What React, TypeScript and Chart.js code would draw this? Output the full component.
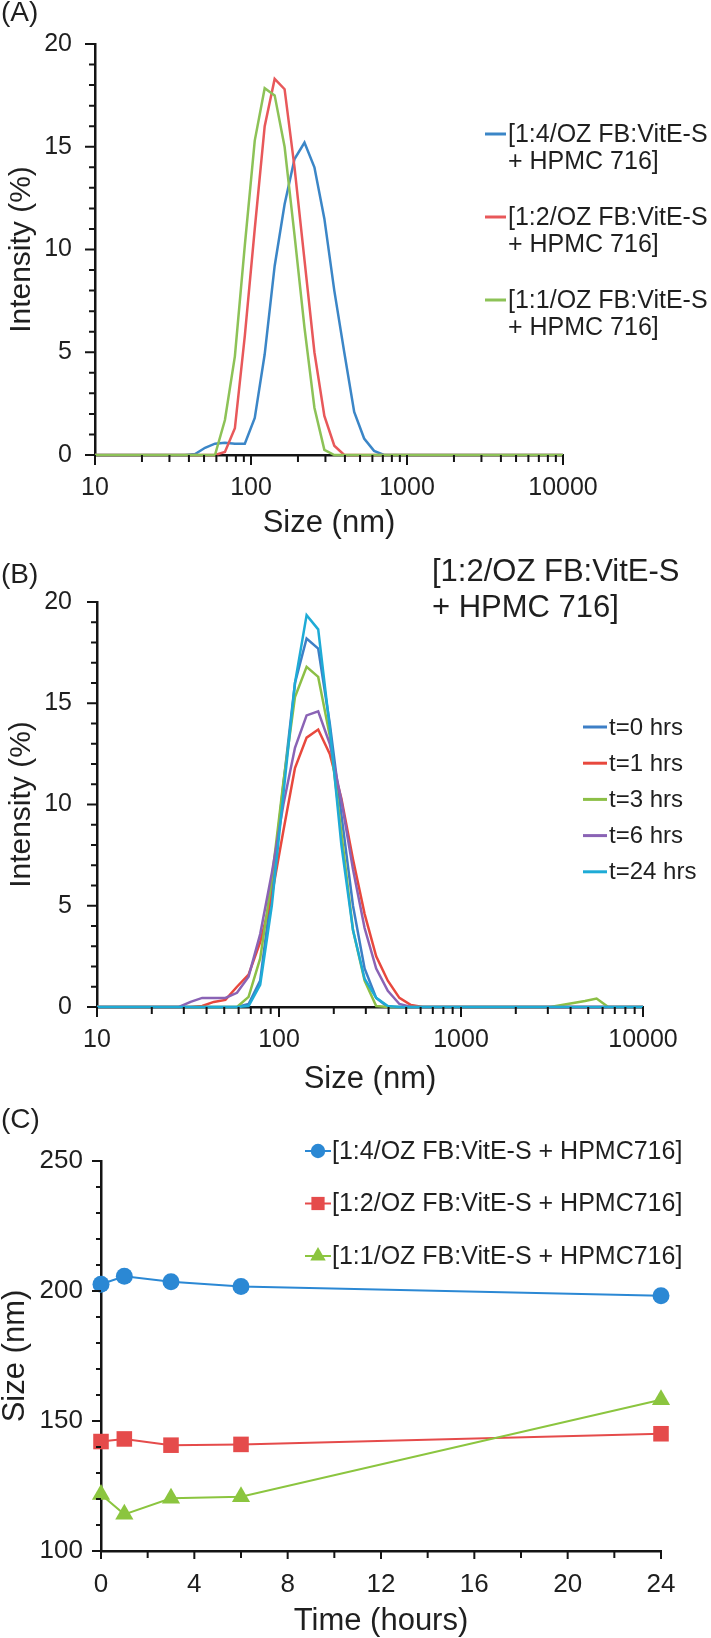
import React, { useEffect, useRef } from "react";
import { Chart, registerables } from "chart.js";

Chart.register(...registerables);

const FONT = "'Liberation Sans', Arial, Helvetica, sans-serif";
const TEXT = "#1f1f1f";
const AXIS = "#141414";
const W = 711;

// ---------------- data ----------------
// DLS size bins (nm)
const sizeBins = [
  8.721, 10.1, 11.7, 13.54, 15.69, 18.17, 21.04, 24.36, 28.21, 32.67, 37.84,
  43.82, 50.75, 58.77, 68.06, 78.82, 91.28, 105.7, 122.4, 141.8, 164.2, 190.1,
  220.2, 255.0, 295.3, 342.0, 396.1, 458.7, 531.2, 615.1, 712.4, 825.0, 955.4,
  1106, 1281, 1484, 1718, 1990, 2305, 2669, 3091, 3580, 4145, 4801, 5560, 6439,
  7456, 8635, 10000,
];
const intensityTicks = [0, 5, 10, 15, 20];
const sizeTicks = [10, 100, 1000, 10000];

// Panel A
const labelsA = [
  "[1:4/OZ FB:VitE-S\n+ HPMC 716]",
  "[1:2/OZ FB:VitE-S\n+ HPMC 716]",
  "[1:1/OZ FB:VitE-S\n+ HPMC 716]",
];
const intensityA14 = [
  0, 0, 0, 0, 0, 0, 0, 0, 0, 0, 0,
  0.05, 0.35, 0.55, 0.6, 0.55, 0.55, 1.8, 4.9, 9.2, 12.2, 14.4, 15.2, 14.0, 11.5,
  8.0, 5.0, 2.1, 0.8, 0.2, 0,
  0, 0, 0, 0, 0, 0, 0, 0, 0, 0, 0, 0, 0, 0, 0, 0, 0, 0,
];
const intensityA12 = [
  0, 0, 0, 0, 0, 0, 0, 0, 0, 0, 0, 0, 0, 0,
  0.15, 1.3, 5.8, 11.0, 16.0, 18.3, 17.8, 14.0, 9.5, 5.0, 1.9, 0.45, 0,
  0, 0, 0, 0, 0, 0, 0, 0, 0, 0, 0, 0, 0, 0, 0, 0, 0, 0, 0, 0, 0, 0,
];
const intensityA11 = [
  0, 0, 0, 0, 0, 0, 0, 0, 0, 0, 0, 0, 0, 0,
  1.7, 4.8, 10.2, 15.3, 17.85, 17.5, 15.0, 10.7, 6.2, 2.3, 0.25, 0,
  0, 0, 0, 0, 0, 0, 0, 0, 0, 0, 0, 0, 0, 0, 0, 0, 0, 0, 0, 0, 0, 0, 0,
];

// Panel B
const titleB = ["[1:2/OZ FB:VitE-S", "+ HPMC 716]"];
const labelsB = ["t=0 hrs", "t=1 hrs", "t=3 hrs", "t=6 hrs", "t=24 hrs"];
const intensityB0 = [
  0, 0, 0, 0, 0, 0, 0, 0, 0, 0, 0, 0, 0, 0,
  0.15, 1.3, 5.8, 11.0, 16.0, 18.2, 17.7, 14.0, 9.5, 5.0, 1.9, 0.45, 0,
  0, 0, 0, 0, 0, 0, 0, 0, 0, 0, 0, 0, 0, 0, 0, 0, 0, 0, 0, 0, 0, 0,
];
const intensityB1 = [
  0, 0, 0, 0, 0, 0, 0, 0, 0, 0,
  0.05, 0.25, 0.35, 1.0, 1.6, 3.2, 5.5, 8.7, 11.8, 13.3, 13.7, 12.5, 10.3, 7.3,
  4.6, 2.5, 1.3, 0.45, 0.1, 0,
  0, 0, 0, 0, 0, 0, 0, 0, 0, 0, 0, 0, 0, 0, 0, 0, 0, 0, 0,
];
const intensityB3 = [
  0, 0, 0, 0, 0, 0, 0, 0, 0, 0, 0, 0, 0, 0,
  0.5, 2.4, 6.3, 11.1, 15.3, 16.8, 16.3, 13.4, 8.6, 3.8, 1.3, 0.05,
  0, 0, 0, 0, 0, 0, 0, 0, 0, 0, 0, 0, 0, 0, 0,
  0.1, 0.2, 0.3, 0.42,
  0, 0, 0, 0,
];
const intensityB6 = [
  0, 0, 0, 0, 0, 0, 0, 0, 0,
  0.25, 0.45, 0.45, 0.45, 0.7, 1.5, 3.6, 6.6, 10.0, 12.8, 14.4, 14.6, 13.0, 10.2,
  6.8, 3.9, 1.9, 0.8, 0.15, 0,
  0, 0, 0, 0, 0, 0, 0, 0, 0, 0, 0, 0, 0, 0, 0, 0, 0, 0, 0, 0,
];
const intensityB24 = [
  0, 0, 0, 0, 0, 0, 0, 0, 0, 0, 0, 0, 0, 0,
  0.05, 1.1, 5.0, 10.5, 16.0, 19.35, 18.65, 13.8, 8.0, 3.8, 1.4, 0.45, 0.05, 0,
  0, 0, 0, 0, 0, 0, 0, 0, 0, 0, 0, 0, 0, 0, 0, 0, 0, 0, 0, 0, 0,
];

// Panel C
const timeHours = [0, 1, 3, 6, 24];
const timeTicks = [0, 4, 8, 12, 16, 20, 24];
const sizeTicksC = [100, 150, 200, 250];
const labelsC = [
  "[1:4/OZ FB:VitE-S + HPMC716]",
  "[1:2/OZ FB:VitE-S + HPMC716]",
  "[1:1/OZ FB:VitE-S + HPMC716]",
];
const sizeC14 = [202.6, 205.7, 203.6, 201.7, 198.2];
const sizeC12 = [142.1, 143.1, 140.7, 141.0, 145.1];
const sizeC11 = [121.7, 114.1, 120.3, 120.9, 158.2];

// ---------------- styles ----------------
const colorsA = ["#3b86c7", "#e8585a", "#8dc257"];
const colorsB = ["#3d7fc6", "#e8483d", "#8cbf46", "#8a63b5", "#1eabd6"];
const colorsC = ["#2b88d4", "#e54b4b", "#8bc53f"];

function range(a: number, b: number, s: number) {
  const out: number[] = [];
  for (let v = a; v <= b + 1e-9; v += s) out.push(v);
  return out;
}
const logMinor: number[] = [];
[10, 100, 1000].forEach((d) => {
  for (let k = 2; k <= 9; k++) logMinor.push(k * d);
});

function drawMarker(ctx: any, style: string, x: number, y: number, r: number) {
  ctx.beginPath();
  if (style === "rect") {
    const s = Math.SQRT1_2 * r;
    ctx.rect(x - s, y - s, 2 * s, 2 * s);
  } else if (style === "triangle") {
    let rad = 0;
    ctx.moveTo(x + Math.sin(rad) * r, y - Math.cos(rad) * r);
    rad += (2 * Math.PI) / 3;
    ctx.lineTo(x + Math.sin(rad) * r, y - Math.cos(rad) * r);
    rad += (2 * Math.PI) / 3;
    ctx.lineTo(x + Math.sin(rad) * r, y - Math.cos(rad) * r);
    ctx.closePath();
  } else {
    ctx.arc(x, y, r, 0, Math.PI * 2);
  }
  ctx.fill();
}

function decoPlugin(cfg: any) {
  return {
    id: "deco",
    afterDraw(chart: any) {
      const ctx = chart.ctx;
      const a = chart.chartArea;
      const xs = chart.scales.x;
      const ys = chart.scales.y;
      ctx.save();
      ctx.strokeStyle = AXIS;
      ctx.lineWidth = 2;
      ctx.beginPath();
      const yTick = (vals: number[], len: number) =>
        vals.forEach((v) => {
          const p = ys.getPixelForValue(v);
          ctx.moveTo(a.left, p);
          ctx.lineTo(a.left - len, p);
        });
      const xTick = (vals: number[], len: number) =>
        vals.forEach((v) => {
          const p = xs.getPixelForValue(v);
          ctx.moveTo(p, a.bottom);
          ctx.lineTo(p, a.bottom + len);
        });
      yTick(cfg.yMajor, cfg.yMajorLen);
      yTick(cfg.yMinor, cfg.yMinorLen);
      xTick(cfg.xMajor, cfg.xMajorLen);
      xTick(cfg.xMinor, cfg.xMinorLen);
      ctx.stroke();

      ctx.fillStyle = TEXT;
      ctx.textAlign = "left";
      ctx.textBaseline = "middle";
      ctx.font = `28px ${FONT}`;
      ctx.fillText(cfg.panel, 1, cfg.panelY);

      if (cfg.title) {
        const t = cfg.title;
        ctx.font = `${t.size}px ${FONT}`;
        t.lines.forEach((ln: string, j: number) => ctx.fillText(ln, t.x, t.y + j * t.dy));
      }

      const lg = cfg.legend;
      if (lg) {
        chart.data.datasets.forEach((ds: any, i: number) => {
          const y = lg.y + i * lg.dy;
          ctx.strokeStyle = ds.borderColor;
          ctx.lineWidth = lg.lineWidth;
          ctx.beginPath();
          ctx.moveTo(lg.x1, y - 1);
          ctx.lineTo(lg.x2, y - 1);
          ctx.stroke();
          if (lg.marker) {
            ctx.fillStyle = ds.backgroundColor;
            drawMarker(ctx, ds.pointStyle, (lg.x1 + lg.x2) / 2, y - 1, ds.pointRadius * 0.85);
          }
          ctx.fillStyle = TEXT;
          ctx.font = `${lg.size}px ${FONT}`;
          String(ds.label)
            .split("\n")
            .forEach((ln: string, j: number) => ctx.fillText(ln, lg.tx, y + j * lg.lineDy));
        });
      }
      ctx.restore();
    },
  };
}

function lineDs(label: string, values: number[], color: string, order: number) {
  return {
    label,
    data: sizeBins.map((x, i) => ({ x, y: values[i] })),
    borderColor: color,
    backgroundColor: color,
    borderWidth: 2.5,
    pointRadius: 0,
    pointHoverRadius: 0,
    tension: 0,
    fill: false,
    order,
    clip: { left: 0, right: 0, top: 6, bottom: 3 },
  };
}

function distConfig(p: any) {
  return {
    type: "line",
    data: { datasets: p.datasets },
    options: {
      responsive: false,
      animation: false,
      devicePixelRatio: 1,
      events: [],
      layout: { padding: { left: 0, right: W - p.right, top: p.plotTop, bottom: 0 } },
      plugins: { legend: { display: false }, tooltip: { enabled: false } },
      scales: {
        x: {
          type: "logarithmic",
          min: 10,
          max: 10000,
          afterBuildTicks: (s: any) => {
            s.ticks = sizeTicks.map((v) => ({ value: v }));
          },
          afterFit: (s: any) => {
            s.height = p.H - p.plotBottom;
          },
          ticks: {
            callback: (v: any) => String(v),
            autoSkip: false,
            maxRotation: 0,
            padding: 18,
            color: TEXT,
            font: { family: FONT, size: 25 },
          },
          grid: { display: false, drawTicks: false },
          border: { display: true, color: AXIS, width: 2.5 },
          title: {
            display: true,
            text: "Size (nm)",
            color: TEXT,
            font: { family: FONT, size: 31, lineHeight: 1 },
            padding: { top: 0, bottom: p.xTitlePad },
          },
        },
        y: {
          type: "linear",
          min: 0,
          max: 20,
          afterBuildTicks: (s: any) => {
            s.ticks = intensityTicks.map((v) => ({ value: v }));
          },
          afterFit: (s: any) => {
            s.width = p.left;
          },
          ticks: { padding: p.yLabelPad, color: TEXT, font: { family: FONT, size: 25 } },
          grid: { display: false, drawTicks: false },
          border: { display: true, color: AXIS, width: 2.5 },
          title: {
            display: true,
            text: "Intensity (%)",
            color: TEXT,
            font: { family: FONT, size: 30, lineHeight: 1 },
            padding: { top: 7, bottom: 0 },
          },
        },
      },
    },
    plugins: [p.deco],
  };
}

const minorInts = range(0, 20, 1).filter((v) => v % 5 !== 0);

function configA() {
  const H = 550;
  return distConfig({
    H,
    left: 95,
    right: 563,
    plotTop: 44,
    plotBottom: 455,
    xTitlePad: 11,
    yLabelPad: 23,
    datasets: [
      lineDs(labelsA[0], intensityA14, colorsA[0], 3),
      lineDs(labelsA[1], intensityA12, colorsA[1], 2),
      lineDs(labelsA[2], intensityA11, colorsA[2], 1),
    ],
    deco: decoPlugin({
      panel: "(A)",
      panelY: 13,
      yMajor: intensityTicks,
      yMinor: minorInts,
      yMajorLen: 10,
      yMinorLen: 6,
      xMajor: sizeTicks,
      xMinor: logMinor,
      xMajorLen: 10,
      xMinorLen: 7,
      legend: { x1: 485, x2: 506, tx: 508, y: 135, dy: 83, lineDy: 27, size: 25, lineWidth: 3 },
    }),
  });
}

function configB() {
  const H = 550;
  return distConfig({
    H,
    left: 97,
    right: 643,
    plotTop: 52,
    plotBottom: 457,
    xTitlePad: 5,
    yLabelPad: 25,
    datasets: [
      lineDs(labelsB[0], intensityB0, colorsB[0], 5),
      lineDs(labelsB[1], intensityB1, colorsB[1], 4),
      lineDs(labelsB[2], intensityB3, colorsB[2], 3),
      lineDs(labelsB[3], intensityB6, colorsB[3], 2),
      lineDs(labelsB[4], intensityB24, colorsB[4], 1),
    ],
    deco: decoPlugin({
      panel: "(B)",
      panelY: 25,
      yMajor: intensityTicks,
      yMinor: minorInts,
      yMajorLen: 10,
      yMinorLen: 6,
      xMajor: sizeTicks,
      xMinor: logMinor,
      xMajorLen: 10,
      xMinorLen: 7,
      title: { lines: titleB, x: 432, y: 22, dy: 36, size: 31 },
      legend: { x1: 583, x2: 607, tx: 609, y: 178, dy: 36.2, lineDy: 0, size: 24, lineWidth: 3 },
    }),
  });
}

function configC() {
  const H = 538;
  const plotTop = 61;
  const plotBottom = 451;
  const mk = (label: string, vals: number[], color: string, style: string, r: number, order: number) => ({
    label,
    data: timeHours.map((x, i) => ({ x, y: vals[i] })),
    borderColor: color,
    backgroundColor: color,
    borderWidth: 2,
    pointStyle: style,
    pointRadius: r,
    pointHoverRadius: r,
    pointBorderWidth: 0,
    tension: 0,
    fill: false,
    order,
    clip: false,
  });
  return {
    type: "line",
    data: {
      datasets: [
        mk(labelsC[0], sizeC14, colorsC[0], "circle", 8.5, 3),
        mk(labelsC[1], sizeC12, colorsC[1], "rect", 11, 2),
        mk(labelsC[2], sizeC11, colorsC[2], "triangle", 10.5, 1),
      ],
    },
    options: {
      responsive: false,
      animation: false,
      devicePixelRatio: 1,
      events: [],
      layout: { padding: { left: 0, right: W - 661, top: plotTop, bottom: 0 } },
      plugins: { legend: { display: false }, tooltip: { enabled: false } },
      scales: {
        x: {
          type: "linear",
          min: 0,
          max: 24,
          afterBuildTicks: (s: any) => {
            s.ticks = timeTicks.map((v) => ({ value: v }));
          },
          afterFit: (s: any) => {
            s.height = H - plotBottom;
          },
          ticks: { padding: 18, color: TEXT, font: { family: FONT, size: 26 }, maxRotation: 0, autoSkip: false },
          grid: { display: false, drawTicks: false },
          border: { display: true, color: AXIS, width: 2.5 },
          title: {
            display: true,
            text: "Time (hours)",
            color: TEXT,
            font: { family: FONT, size: 31, lineHeight: 1 },
            padding: { top: 0, bottom: 1 },
          },
        },
        y: {
          type: "linear",
          min: 100,
          max: 250,
          afterBuildTicks: (s: any) => {
            s.ticks = sizeTicksC.map((v) => ({ value: v }));
          },
          afterFit: (s: any) => {
            s.width = 101;
          },
          ticks: { padding: 18, color: TEXT, font: { family: FONT, size: 26 } },
          grid: { display: false, drawTicks: false },
          border: { display: true, color: AXIS, width: 2.5 },
          title: {
            display: true,
            text: "Size (nm)",
            color: TEXT,
            font: { family: FONT, size: 31, lineHeight: 1 },
            padding: { top: 0, bottom: 0 },
          },
        },
      },
    },
    plugins: [
      decoPlugin({
        panel: "(C)",
        panelY: 20,
        yMajor: sizeTicksC,
        yMinor: range(100, 250, 10).filter((v) => v % 50 !== 0),
        yMajorLen: 9,
        yMinorLen: 5,
        xMajor: timeTicks,
        xMinor: range(2, 22, 4),
        xMajorLen: 8,
        xMinorLen: 7,
        legend: { x1: 305, x2: 331, tx: 332, y: 52, dy: 52.5, lineDy: 0, size: 25, lineWidth: 2, marker: true },
      }),
    ],
  };
}

export default function App() {
  const refA = useRef<HTMLCanvasElement>(null);
  const refB = useRef<HTMLCanvasElement>(null);
  const refC = useRef<HTMLCanvasElement>(null);

  useEffect(() => {
    Chart.defaults.font.family = FONT;
    const charts = [
      new Chart(refA.current as HTMLCanvasElement, configA() as any),
      new Chart(refB.current as HTMLCanvasElement, configB() as any),
      new Chart(refC.current as HTMLCanvasElement, configC() as any),
    ];
    return () => charts.forEach((c) => c.destroy());
  }, []);

  const cs = (top: number, h: number): React.CSSProperties => ({
    position: "absolute",
    left: 0,
    top,
    width: W,
    height: h,
    display: "block",
  });

  return (
    <div style={{ position: "absolute", left: 0, top: 0, width: W, height: 1638, background: "#ffffff" }}>
      <canvas ref={refA} width={W} height={550} style={cs(0, 550)} />
      <canvas ref={refB} width={W} height={550} style={cs(550, 550)} />
      <canvas ref={refC} width={W} height={538} style={cs(1100, 538)} />
    </div>
  );
}
